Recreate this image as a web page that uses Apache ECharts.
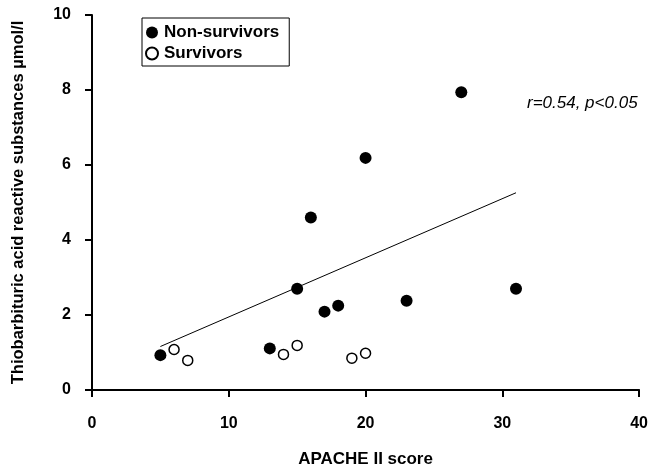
<!DOCTYPE html>
<html>
<head>
<meta charset="utf-8">
<script src="https://cdn.jsdelivr.net/npm/echarts@6/dist/echarts.min.js"></script>
<style>
  html, body { margin: 0; padding: 0; background: #fff; }
  #chart { width: 651px; height: 473px; }
</style>
</head>
<body>
<div id="chart"></div>
<script>
// APACHE II score vs TBARS
var nonSurvivors = [[5, 0.93], [13, 1.11], [15, 2.70], [16, 4.60], [17, 2.09], [18, 2.25], [20, 6.19], [23, 2.38], [27, 7.94], [31, 2.70]];
var survivors = [[6, 1.08], [7, 0.79], [14, 0.95], [15, 1.19], [19, 0.85], [20, 0.98]];
var fitLine = [[5, 1.16], [31, 5.26]];
var xTicks = [0, 10, 20, 30, 40];
var yTicks = [0, 2, 4, 6, 8, 10];

var font = "'Liberation Sans', Arial, sans-serif";
var mychart = echarts.init(document.getElementById('chart'));

var option = {
  animation: false,
  grid: { left: 92, right: 10, top: 15, bottom: 80 },
  legend: {
    left: 142,
    top: 18,
    orient: 'vertical',
    borderColor: '#000',
    borderWidth: 1,
    padding: [6, 10, 4, 3],
    itemGap: 4,
    itemWidth: 12,
    itemHeight: 12,
    textStyle: { fontFamily: font, fontSize: 17, fontWeight: 'bold', color: '#000', padding: [0, 0, 0, 1] },
    data: ['Non-survivors', 'Survivors']
  },
  graphic: [{
    type: 'text',
    left: 527,
    top: 95,
    style: { text: 'r=0.54, p<0.05', font: 'italic 17px ' + font, fill: '#000' }
  }],
  xAxis: {
    type: 'value',
    min: xTicks[0],
    max: xTicks[xTicks.length - 1],
    interval: 10,
    offset: 10,
    name: 'APACHE II score',
    nameLocation: 'middle',
    nameGap: 51,
    nameTextStyle: { fontFamily: font, fontSize: 17, fontWeight: 'bold', color: '#000' },
    axisLine: { lineStyle: { color: '#000', width: 2 } },
    axisTick: { length: 7, lineStyle: { color: '#000', width: 2 } },
    axisLabel: { fontFamily: font, fontSize: 16, fontWeight: 'bold', color: '#000', margin: 16 },
    splitLine: { show: false }
  },
  yAxis: {
    type: 'value',
    min: yTicks[0],
    max: yTicks[yTicks.length - 1],
    interval: 2,
    offset: 7,
    name: 'Thiobarbituric acid reactive substances µmol/l',
    nameLocation: 'middle',
    nameGap: 58,
    nameTextStyle: { fontFamily: font, fontSize: 16.5, fontWeight: 'bold', color: '#000' },
    axisLine: { show: true, lineStyle: { color: '#000', width: 2 } },
    axisTick: { show: true, length: 7, lineStyle: { color: '#000', width: 2 } },
    axisLabel: { fontFamily: font, fontSize: 16, fontWeight: 'bold', color: '#000', margin: 14 },
    splitLine: { show: false }
  },
  series: [
    {
      name: 'fit',
      type: 'line',
      data: fitLine,
      symbol: 'none',
      lineStyle: { color: '#000', width: 1 },
      z: 1
    },
    {
      name: 'Non-survivors',
      type: 'scatter',
      data: nonSurvivors,
      symbol: 'circle',
      symbolSize: 12,
      itemStyle: { color: '#000', opacity: 1 },
      z: 3
    },
    {
      name: 'Survivors',
      type: 'scatter',
      data: survivors,
      symbol: 'circle',
      symbolSize: 10,
      itemStyle: { color: '#fff', borderColor: '#000', borderWidth: 1.5, opacity: 1 },
      z: 3
    }
  ]
};
mychart.setOption(option, true);
</script>
</body>
</html>
